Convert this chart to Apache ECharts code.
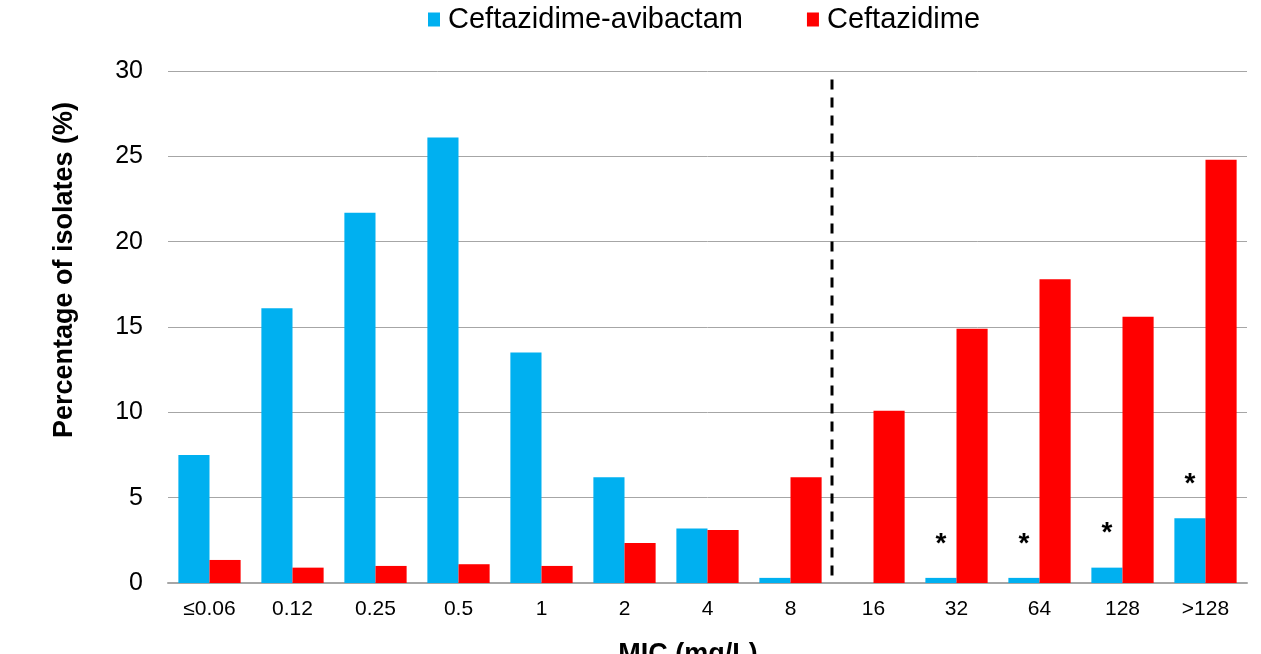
<!DOCTYPE html>
<html>
<head>
<meta charset="utf-8">
<script src="https://cdn.jsdelivr.net/npm/echarts@6/dist/echarts.min.js"></script>
<style>html,body{margin:0;padding:0;background:#fff}#c{width:1261px;height:654px}</style>
</head>
<body>
<div id="c"></div>
<script>
const categories = ['≤0.06','0.12','0.25','0.5','1','2','4','8','16','32','64','128','>128'];
const ceftazidimeAvibactam = [7.5, 16.1, 21.7, 26.1, 13.5, 6.2, 3.2, 0.3, 0, 0.3, 0.3, 0.9, 3.8];
const ceftazidime = [1.35, 0.9, 1.0, 1.1, 1.0, 2.35, 3.1, 6.2, 10.1, 14.9, 17.8, 15.6, 24.8];
const annotations = ['', '', '', '', '', '', '', '', '', '*', '*', '*', '*'];
const yTicks = [0, 5, 10, 15, 20, 25, 30];
const breakpointIndex = 8;   // boundary between "8" and "16"
const breakpointTop = 29.5;
const seriesNames = ['Ceftazidime-avibactam', 'Ceftazidime'];

const font = 'Arial, "Liberation Sans", sans-serif';
const chart = echarts.init(document.getElementById('c'));
chart.setOption({
  animation: false,
  grid: { left: 168, right: 14, top: 71, bottom: 71, containLabel: false },
  legend: {
    left: 423, top: 0,
    itemWidth: 12, itemHeight: 14, itemGap: 64,
    icon: 'rect',
    textStyle: { fontFamily: font, fontSize: 29, color: '#000', padding: [0, 0, 0, 3] },
    data: seriesNames
  },
  xAxis: [{
    type: 'category',
    data: categories,
    axisLine: { lineStyle: { color: '#a6a6a6', width: 2 } },
    axisTick: { show: false },
    axisLabel: { fontFamily: font, fontSize: 21, color: '#000', margin: 16, interval: 0 }
  }, {
    type: 'value', min: 0, max: categories.length, show: false
  }],
  yAxis: {
    type: 'value', min: yTicks[0], max: yTicks[yTicks.length - 1], interval: 5,
    axisLine: { show: false },
    axisTick: { show: false },
    axisLabel: { fontFamily: font, fontSize: 25, color: '#000', margin: 25 },
    splitLine: { lineStyle: { color: '#a6a6a6', width: 1 } }
  },
  series: [{
    name: seriesNames[0], type: 'bar', data: ceftazidimeAvibactam,
    barGap: '0%', barCategoryGap: '25%',
    itemStyle: { color: '#00B0F0' },
    label: {
      show: true, position: 'top', distance: 20,
      formatter: p => annotations[p.dataIndex],
      fontFamily: font, fontSize: 28, fontWeight: 'bold', color: '#000'
    }
  }, {
    name: seriesNames[1], type: 'bar', data: ceftazidime,
    itemStyle: { color: '#FF0000' }
  }, {
    type: 'line', xAxisIndex: 1, yAxisIndex: 0, silent: true,
    data: [[breakpointIndex, breakpointTop], [breakpointIndex, 0]],
    symbol: 'none',
    lineStyle: { color: '#000', width: 3, type: [10, 8] }
  }],
  graphic: [{
    type: 'text', x: 65, y: 270, rotation: Math.PI / 2,
    style: { text: 'Percentage of isolates (%)', fontFamily: font, fontSize: 27, fontWeight: 'bold',
      fill: '#000', align: 'center', verticalAlign: 'middle' }
  }, {
    type: 'text', x: 688, y: 641,
    style: { text: 'MIC (mg/L)', fontFamily: font, fontSize: 27, fontWeight: 'bold',
      fill: '#000', align: 'center', verticalAlign: 'top' }
  }]
});
</script>
</body>
</html>
